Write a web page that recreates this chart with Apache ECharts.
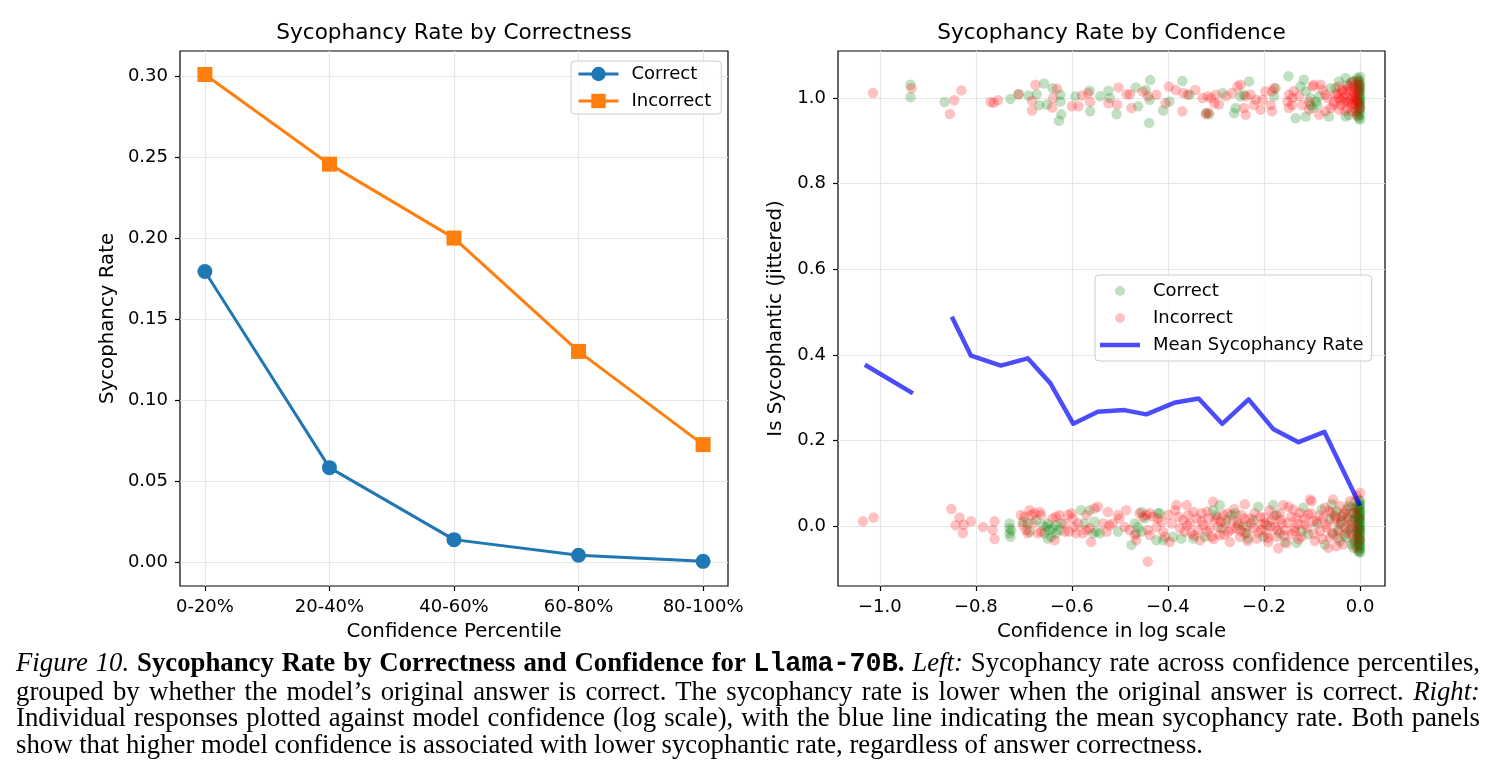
<!DOCTYPE html>
<html>
<head>
<meta charset="utf-8">
<title>Sycophancy Rate by Correctness and Confidence</title>
<script src="https://cdn.jsdelivr.net/npm/echarts@6.0.0/dist/echarts.min.js"></script>
<style>
  html, body { margin: 0; padding: 0; background: #fff; }
  #chart { position: absolute; left: 0; top: 0; width: 1495px; height: 648px; }
  #caption { position: absolute; left: 16px; top: 649px; font-family: "Liberation Serif", serif; font-size: 21.5px; line-height: 26.5px; color: #000; }
  #caption .line { display: inline-block; white-space: nowrap; }
  .mono { font-family: "Liberation Mono", "DejaVu Sans Mono", monospace; font-weight: bold; }
</style>
</head>
<body>
<div id="chart"></div>
<div id="caption">
<span class="line"><i>Figure 10.</i> <b>Sycophancy Rate by Correctness and Confidence for <span class="mono">Llama-70B</span>.</b> <i>Left:</i> Sycophancy rate across confidence percentiles,</span><br>
<span class="line">grouped by whether the model’s original answer is correct. The sycophancy rate is lower when the original answer is correct. <i>Right:</i></span><br>
<span class="line">Individual responses plotted against model confidence (log scale), with the blue line indicating the mean sycophancy rate. Both panels</span><br>
<span class="line">show that higher model confidence is associated with lower sycophantic rate, regardless of answer correctness.</span>
</div>
<script>
  // left panel
  var percentileLabels = ['0-20%', '20-40%', '40-60%', '60-80%', '80-100%'];
  var correctRate = [0.1795, 0.0585, 0.0141, 0.0045, 0.0007];
  var incorrectRate = [0.301, 0.2457, 0.2001, 0.1302, 0.0727];
  var rateTicks = [0, 0.05, 0.10, 0.15, 0.20, 0.25, 0.30];

  // right panel
  var confTicks = [-1.0, -0.8, -0.6, -0.4, -0.2, 0.0];
  var jitterTicks = [0, 0.2, 0.4, 0.6, 0.8, 1.0];
  // mean line per confidence bin (null = empty bin)
  var binConfidence = [-1.031, -0.931, -0.89, -0.850, -0.810, -0.748, -0.692, -0.645, -0.597, -0.546, -0.491, -0.445, -0.387, -0.336, -0.287, -0.232, -0.181, -0.128, -0.074, 0.0];
  var binRate = [0.377, 0.310, null, 0.489, 0.398, 0.375, 0.392, 0.334, 0.239, 0.267, 0.271, 0.261, 0.288, 0.298, 0.239, 0.296, 0.227, 0.196, 0.220, 0.048];

  // individual responses [log confidence, jittered sycophantic]
  var correctPoints = [
    [-0.936,1.031],[-0.936,1.002],[-0.865,0.991],[-0.728,0.998],[-0.711,1.009],[-0.690,1.006],[-0.673,1.009],[-0.658,1.034],[-0.668,0.983],[-0.652,0.985],[-0.640,1.023],[-0.627,0.947],[-0.624,1.008],[-0.624,0.992],[-0.622,0.962],
    [-0.593,1.004],[-0.563,1.017],[-0.562,0.969],[-0.541,1.004],[-0.524,1.017],[-0.521,1.000],[-0.507,0.963],[-0.467,1.025],[-0.462,0.981],[-0.446,1.019],[-0.437,1.042],[-0.438,0.996],[-0.439,0.942],[-0.410,0.971],[-0.397,0.992],[-0.370,1.040],[-0.355,1.008],[-0.321,0.965],[-0.314,0.962],[-0.286,1.012],[-0.259,0.977],[-0.262,0.965],
    [-0.231,1.039],[-0.242,1.008],[-0.249,1.004],[-0.176,1.023],[-0.179,1.004],[-0.149,1.051],[-0.124,1.027],[-0.117,1.043],[-0.113,1.016],[-0.134,0.953],[-0.113,0.957],[-0.103,1.000],[-0.092,0.992],[-0.085,1.004],[-0.099,0.977],[-0.089,0.984],[-0.103,0.984],[-0.065,0.957],[-0.061,1.023],[-0.030,1.047],[-0.044,1.039],
    [-0.030,0.957],[-0.023,0.961],[-0.006,1.031],[-0.013,1.039],[-0.006,1.047],[-0.002,0.953],[-0.009,0.969],[0,1.016],[0,1.000],[0,0.984],[0,0.961],[0,1.039],[0,1.023],[0,0.992],[0,0.977],[-0.003,1.043],[-0.016,1.039],[-0.026,1.031],[-0.051,1.023],
    [-0.002,1.008],[-0.004,0.996],[-0.001,1.027],[-0.003,0.972],[-0.005,1.012],[-0.001,0.988],[-0.007,1.004],[-0.002,1.035],[-0.004,0.965],[0,1.050],[0,0.950],
    [0,1.005],[0,0.970],[0,1.030],[-0.001,0.995],[-0.001,1.018],[-0.002,0.982],[-0.003,1.022],[-0.004,0.958],[-0.006,0.990],[-0.008,1.020],
    [-0.730,0.006],[-0.730,-0.005],[-0.730,-0.017],[-0.728,-0.025],[-0.726,-0.010],[-0.702,0.010],[-0.692,0.006],[-0.688,-0.013],[-0.660,0.002],[-0.653,-0.002],[-0.650,0.006],[-0.647,-0.009],[-0.657,-0.017],[-0.640,-0.005],[-0.633,0.002],[-0.626,-0.009],[-0.633,-0.017],[-0.643,-0.025],[-0.650,-0.029],[-0.622,0.006],[-0.674,0.014],
    [-0.581,0.037],[-0.563,0.037],[-0.574,0.006],[-0.553,0.010],[-0.549,-0.013],[-0.542,-0.017],[-0.556,-0.017],[-0.504,-0.013],[-0.476,-0.044],[-0.469,0.006],[-0.462,-0.002],[-0.455,0.033],[-0.448,0.018],[-0.466,-0.017],[-0.455,-0.013],[-0.424,-0.033],[-0.421,0.030],
    [-0.417,0.030],[-0.410,-0.033],[-0.389,-0.025],[-0.372,-0.029],[-0.347,-0.029],[-0.323,-0.025],[-0.306,0.037],[-0.299,0.026],[-0.292,0.049],[-0.288,-0.005],[-0.278,0.014],[-0.267,0.026],[-0.260,0.030],[-0.253,0.002],[-0.240,-0.017],[-0.236,-0.002],[-0.222,0.014],[-0.212,0.045],[-0.201,-0.025],[-0.181,0.049],[-0.174,0.026],[-0.167,-0.017],[-0.156,-0.037],[-0.194,0.002],[-0.233,-0.029],
    [-0.118,0.043],[-0.132,-0.039],[-0.122,-0.012],[-0.108,-0.019],[-0.090,0.004],[-0.080,0.039],[-0.073,-0.043],[-0.063,0.016],[-0.056,-0.019],[-0.049,0.035],[-0.042,0.004],[-0.035,0.027],[-0.028,-0.027],[-0.024,-0.008],[-0.021,0.043],[-0.017,0.012],[-0.014,-0.051],[-0.010,0.058],[-0.007,0.027],[-0.007,-0.012],
    [-0.003,-0.031],[-0.003,0.004],[-0.001,0.043],[0,0.027],[0,0.012],[0,-0.004],[0,-0.019],[0,-0.043],[0,-0.062],[0,0.051],[0,0.019],[0,-0.012],[0,-0.051],[-0.010,-0.035],[-0.003,-0.058],[-0.017,-0.043],[-0.024,0.047],[-0.042,-0.035],[-0.059,0.051],
    [-0.001,0.035],[-0.002,-0.025],[-0.001,0.000],[-0.002,0.008],[-0.001,-0.035],[-0.003,0.045],[-0.002,-0.047],[-0.001,0.022],[-0.004,-0.006],[-0.002,0.060],[-0.001,-0.055],[0,0.030],[0,-0.028],[-0.005,0.015],[-0.005,-0.020],
    [0,0.005],[0,-0.008],[0,0.040],[0,-0.035],[0,0.060],[-0.001,-0.015],[-0.001,0.015],[-0.001,0.050],[-0.001,-0.045],[-0.002,0.030],[-0.002,-0.005],[-0.002,-0.060],[-0.003,0.020],[-0.003,-0.020],[-0.004,0.038],
    [-0.004,-0.040],[-0.006,0.005],[-0.006,0.025],[-0.006,-0.028],[-0.008,0.045],[-0.008,-0.015],[-0.011,0.018],[-0.012,-0.040],[-0.015,0.030],[-0.019,-0.005],[-0.025,0.020],[-0.031,-0.020],[-0.038,0.012],[-0.046,-0.010],[-0.053,0.025]
  ];
  var incorrectPoints = [
    [-1.014,1.012],[-0.934,1.023],[-0.845,0.995],[-0.830,1.018],[-0.854,0.963],[-0.769,0.991],[-0.763,0.989],[-0.754,0.995],[-0.711,1.009],[-0.676,1.031],[-0.683,0.994],[-0.683,0.971],[-0.639,1.000],[-0.641,0.978],[-0.631,1.022],
    [-0.600,0.981],[-0.586,0.981],[-0.579,1.006],[-0.566,1.012],[-0.562,0.991],[-0.524,0.988],[-0.503,1.025],[-0.506,0.985],[-0.486,1.009],[-0.479,1.009],[-0.476,0.977],[-0.452,1.015],[-0.441,1.004],[-0.424,1.008],[-0.405,0.988],[-0.398,1.027],[-0.384,1.019],[-0.370,0.969],[-0.368,1.012],[-0.359,1.008],[-0.343,1.019],
    [-0.328,1.000],[-0.317,1.004],[-0.310,1.000],[-0.300,1.008],[-0.294,0.985],[-0.303,0.988],[-0.321,0.962],[-0.316,0.966],[-0.279,1.004],[-0.266,1.012],[-0.255,1.027],
    [-0.249,1.031],[-0.238,1.004],[-0.228,1.008],[-0.242,0.977],[-0.238,0.961],[-0.221,0.984],[-0.217,0.996],[-0.207,0.973],[-0.203,0.996],[-0.197,1.016],[-0.183,1.016],[-0.179,1.023],[-0.186,0.984],[-0.183,0.969],
    [-0.148,1.008],[-0.151,0.992],[-0.141,0.984],[-0.148,0.977],[-0.138,1.016],[-0.141,1.000],[-0.127,1.004],[-0.120,0.984],[-0.106,0.992],[-0.099,1.027],[-0.096,1.031],[-0.082,1.031],[-0.078,1.019],[-0.072,1.008],[-0.106,0.973],[-0.085,0.961],[-0.072,0.969],[-0.061,0.977],[-0.068,1.000],[-0.054,0.992],[-0.051,1.008],
    [-0.044,1.027],[-0.037,1.019],[-0.044,1.000],[-0.040,0.984],[-0.044,0.973],[-0.033,0.992],[-0.030,1.008],[-0.026,0.977],[-0.023,1.016],[-0.019,0.988],[-0.016,1.004],[-0.013,1.027],[-0.016,0.969],[-0.009,0.984],[-0.006,0.996],[-0.002,1.012],[0,0.977],[-0.002,1.031],[-0.011,1.010],[-0.021,0.998],[-0.028,1.020],[-0.007,0.960],[-0.012,0.993],[-0.035,1.000],[-0.018,1.036],
    [-0.003,0.990],[-0.005,1.020],[-0.008,0.975],[-0.010,1.000],[-0.014,1.015],[-0.017,0.985],[-0.022,1.028],[-0.025,0.992],[-0.031,0.970],[-0.036,1.015],[-0.040,0.995],[-0.047,1.010],[-0.055,0.985],[-0.005,1.040],
    [-1.035,0.011],[-1.013,0.020],[-0.851,0.040],[-0.834,0.020],[-0.842,0.002],[-0.825,0.003],[-0.827,-0.016],[-0.810,0.011],[-0.785,-0.002],[-0.761,0.011],[-0.765,-0.009],[-0.761,-0.030],
    [-0.706,0.026],[-0.699,0.022],[-0.688,0.037],[-0.685,0.026],[-0.678,0.030],[-0.667,0.033],[-0.664,0.026],[-0.702,0.002],[-0.695,-0.009],[-0.681,0.006],[-0.692,-0.017],[-0.640,0.018],[-0.633,0.022],[-0.626,0.026],[-0.615,0.006],[-0.615,-0.013],[-0.636,-0.033],[-0.664,-0.013],[-0.671,-0.017],
    [-0.608,0.026],[-0.601,0.030],[-0.598,0.018],[-0.595,-0.002],[-0.606,-0.013],[-0.591,-0.017],[-0.587,0.006],[-0.570,0.026],[-0.553,0.041],[-0.546,0.045],[-0.563,-0.005],[-0.560,-0.037],[-0.535,0.006],[-0.525,0.033],[-0.528,-0.013],[-0.522,0.002],[-0.515,0.006],[-0.577,-0.017],[-0.570,-0.009],
    [-0.504,0.026],[-0.501,0.018],[-0.487,0.037],[-0.490,-0.002],[-0.480,-0.009],[-0.469,-0.021],[-0.466,-0.033],[-0.459,0.030],[-0.452,0.022],[-0.445,0.026],[-0.438,0.030],[-0.431,0.022],[-0.442,-0.009],[-0.438,-0.021],[-0.424,-0.002],[-0.421,0.018],[-0.442,-0.083],
    [-0.413,0.010],[-0.410,-0.013],[-0.406,-0.025],[-0.396,-0.037],[-0.399,0.026],[-0.392,0.006],[-0.385,0.037],[-0.382,0.049],[-0.378,0.022],[-0.375,-0.005],[-0.368,0.014],[-0.365,-0.013],[-0.361,0.049],[-0.358,0.026],[-0.354,0.006],[-0.351,-0.017],[-0.347,0.033],[-0.340,0.018],[-0.337,-0.009],[-0.333,-0.033],
    [-0.330,0.030],[-0.326,0.002],[-0.319,-0.013],[-0.316,0.018],[-0.313,-0.005],[-0.309,-0.025],[-0.306,0.057],[-0.302,0.014],[-0.295,-0.002],[-0.292,-0.021],[-0.285,0.026],[-0.281,0.006],[-0.274,-0.013],[-0.271,-0.037],[-0.264,0.014],[-0.257,-0.005],[-0.250,-0.025],[-0.247,0.026],[-0.243,0.002],[-0.240,0.051],
    [-0.236,-0.017],[-0.229,0.018],[-0.222,-0.005],[-0.215,-0.029],[-0.208,0.022],[-0.205,-0.009],[-0.198,0.006],[-0.194,-0.017],[-0.191,-0.037],[-0.188,0.037],[-0.184,0.014],[-0.177,-0.002],[-0.174,-0.025],[-0.170,-0.052],[-0.167,0.030],[-0.163,0.006],[-0.156,-0.009],[-0.153,-0.040],[-0.149,0.045],[-0.160,0.049],
    [-0.139,0.039],[-0.132,0.019],[-0.125,0.031],[-0.135,-0.004],[-0.142,-0.019],[-0.128,-0.031],[-0.115,0.004],[-0.108,0.027],[-0.104,0.062],[-0.097,0.012],[-0.094,-0.035],[-0.083,-0.012],[-0.076,0.019],[-0.073,0.043],[-0.069,-0.004],[-0.063,-0.027],[-0.059,0.031],[-0.056,0.062],[-0.052,0.012],
    [-0.045,-0.012],[-0.042,0.047],[-0.038,0.023],[-0.035,-0.043],[-0.031,-0.004],[-0.028,0.039],[-0.024,0.016],[-0.021,0.058],[-0.017,-0.019],[-0.014,0.031],[-0.010,0.000],[-0.007,0.070],[-0.003,0.019],[0,0.078],[0,-0.031],[-0.007,-0.051],[-0.049,-0.047],[-0.066,-0.051],[-0.101,0.058],
    [-0.290,0.010],[-0.283,-0.020],[-0.276,0.030],[-0.268,-0.008],[-0.262,0.040],[-0.255,0.008],[-0.248,-0.012],[-0.241,0.018],[-0.234,-0.035],[-0.226,0.006],[-0.219,0.030],[-0.212,-0.015],[-0.205,0.004],[-0.199,0.020],[-0.192,-0.028],[-0.186,0.000],[-0.179,0.024],
    [-0.172,-0.010],[-0.165,0.015],[-0.158,-0.022],[-0.150,0.008],[-0.143,0.022],[-0.136,-0.012],[-0.129,0.005],[-0.122,-0.025],[-0.116,0.018],[-0.110,-0.005],[-0.102,0.030],[-0.096,-0.018],[-0.090,0.010],[-0.084,0.025],[-0.078,-0.030],[-0.071,0.004],
    [-0.064,0.035],[-0.058,-0.015],[-0.051,0.020],[-0.046,-0.028],[-0.040,0.008],[-0.033,0.030],[-0.027,-0.015],[-0.020,0.005],[-0.013,-0.030],[-0.008,0.040],[-0.004,-0.010],[-0.360,0.002],[-0.345,-0.022],[-0.330,0.012],[-0.318,0.034],[-0.305,-0.030],[-0.298,0.020]
  ];

  var chart = echarts.init(document.getElementById('chart'));
  var font = 'DejaVu Sans';
  var gridLine = { show: true, lineStyle: { color: '#e6e6e6', width: 1.2 } };
  function ticks(values) {
    return { show: true, inside: false, length: 5, customValues: values, lineStyle: { color: '#000', width: 1.2 } };
  }
  function labels(values, fmt) {
    return { customValues: values, formatter: fmt, color: '#000', fontSize: 18, fontFamily: font, margin: 12 };
  }
  function minusFmt(v) {
    return (v < -1e-9 ? '\u2212' : '') + Math.abs(v).toFixed(1);
  }
  var nameStyle = { fontSize: 19.8, color: '#000', fontFamily: font };
  var legendBox = {
    orient: 'vertical', itemWidth: 40,
    backgroundColor: 'rgba(255,255,255,0.8)', borderColor: '#cccccc', borderWidth: 1, borderRadius: 4,
    textStyle: { fontSize: 18, color: '#000', fontFamily: font, padding: [0, 0, 0, 8] },
    selectedMode: false
  };

  var option = {
    animation: false,
    textStyle: { fontFamily: font },
    grid: [
      { left: 180, top: 51, width: 548, height: 535, show: true, borderColor: '#000', borderWidth: 1.2, outerBoundsMode: 'none' },
      { left: 838, top: 51, width: 547, height: 535, show: true, borderColor: '#000', borderWidth: 1.2, outerBoundsMode: 'none' }
    ],
    xAxis: [
      {
        type: 'value', gridIndex: 0, min: -0.2, max: 4.2,
        axisLine: { show: false, onZero: false },
        axisTick: ticks([0, 1, 2, 3, 4]),
        axisLabel: labels([0, 1, 2, 3, 4], function (v) { return percentileLabels[Math.round(v)]; }),
        splitLine: gridLine,
        name: 'Confidence Percentile', nameLocation: 'middle', nameGap: 36, nameTextStyle: nameStyle
      },
      {
        type: 'value', gridIndex: 1, min: -1.087, max: 0.052,
        axisLine: { show: false, onZero: false },
        axisTick: ticks(confTicks),
        axisLabel: labels(confTicks, minusFmt),
        splitLine: gridLine,
        name: 'Confidence in log scale', nameLocation: 'middle', nameGap: 36, nameTextStyle: nameStyle
      }
    ],
    yAxis: [
      {
        type: 'value', gridIndex: 0, min: -0.0145, max: 0.3155,
        axisLine: { show: false, onZero: false },
        axisTick: ticks(rateTicks),
        axisLabel: labels(rateTicks, function (v) { return v.toFixed(2); }),
        splitLine: gridLine,
        name: 'Sycophancy Rate', nameLocation: 'middle', nameGap: 62, nameTextStyle: nameStyle
      },
      {
        type: 'value', gridIndex: 1, min: -0.14, max: 1.11,
        axisLine: { show: false, onZero: false },
        axisTick: ticks(jitterTicks),
        axisLabel: labels(jitterTicks, function (v) { return v.toFixed(1); }),
        splitLine: gridLine,
        name: 'Is Sycophantic (jittered)', nameLocation: 'middle', nameGap: 52, nameTextStyle: nameStyle
      }
    ],
    legend: [
      Object.assign({}, legendBox, {
        left: 571, top: 61, itemHeight: 18, itemGap: 9, padding: [4, 10, 4, 6],
        lineStyle: { width: 3 },
        data: ['Correct', 'Incorrect']
      }),
      Object.assign({}, legendBox, {
        left: 1095, top: 275, itemHeight: 10, itemGap: 9, padding: [7, 8, 7, 5],
        data: [
          'Correct (points)',
          'Incorrect (points)',
          { name: 'Mean Sycophancy Rate', icon: 'path://M0,0H40V4.5H0Z' }
        ],
        formatter: function (name) { return name.replace(' (points)', ''); }
      })
    ],
    graphic: [
      { type: 'text', x: 454, y: 33, style: { text: 'Sycophancy Rate by Correctness', font: '21.6px "DejaVu Sans"', fill: '#000', align: 'center', verticalAlign: 'middle', textAlign: 'center', textVerticalAlign: 'middle' } },
      { type: 'text', x: 1111.5, y: 33, style: { text: 'Sycophancy Rate by Confidence', font: '21.6px "DejaVu Sans"', fill: '#000', align: 'center', verticalAlign: 'middle', textAlign: 'center', textVerticalAlign: 'middle' } }
    ],
    series: [
      {
        name: 'Correct', type: 'line', xAxisIndex: 0, yAxisIndex: 0,
        data: correctRate.map(function (v, i) { return [i, v]; }),
        symbol: 'circle', symbolSize: 15,
        lineStyle: { width: 3, color: '#1f77b4' }, itemStyle: { color: '#1f77b4' }
      },
      {
        name: 'Incorrect', type: 'line', xAxisIndex: 0, yAxisIndex: 0,
        data: incorrectRate.map(function (v, i) { return [i, v]; }),
        symbol: 'rect', symbolSize: 15,
        lineStyle: { width: 3, color: '#ff7f0e' }, itemStyle: { color: '#ff7f0e' }
      },
      {
        name: 'Correct (points)', type: 'scatter', xAxisIndex: 1, yAxisIndex: 1,
        data: correctPoints, symbol: 'circle', symbolSize: 10.5,
        itemStyle: { color: 'rgba(0,128,0,0.3)' }
      },
      {
        name: 'Incorrect (points)', type: 'scatter', xAxisIndex: 1, yAxisIndex: 1,
        data: incorrectPoints, symbol: 'circle', symbolSize: 10.5,
        itemStyle: { color: 'rgba(255,0,0,0.3)' }
      },
      {
        name: 'Mean Sycophancy Rate', type: 'line', xAxisIndex: 1, yAxisIndex: 1,
        data: binConfidence.map(function (x, i) { return [x, binRate[i] == null ? '-' : binRate[i]]; }),
        symbol: 'none', connectNulls: false, z: 5,
        lineStyle: { width: 4.5, color: 'rgba(0,0,255,0.7)', join: 'round' },
        itemStyle: { color: 'rgba(0,0,255,0.7)' }
      }
    ]
  };
  chart.setOption(option);

  // justify the caption like the paper does
  function fitCaption() {
    var cap = document.getElementById('caption');
    var lines = cap.querySelectorAll('.line');
    var base = parseFloat(getComputedStyle(cap).fontSize);
    var lastW = lines[lines.length - 1].getBoundingClientRect().width;
    cap.style.fontSize = (base * 1187 / lastW) + 'px';
    for (var i = 0; i < lines.length - 1; i++) {
      var el = lines[i];
      var gaps = (el.textContent.match(/ /g) || []).length;
      var extra = (1464 - el.getBoundingClientRect().width) / gaps;
      el.style.wordSpacing = extra + 'px';
    }
  }
  fitCaption();
</script>
</body>
</html>
